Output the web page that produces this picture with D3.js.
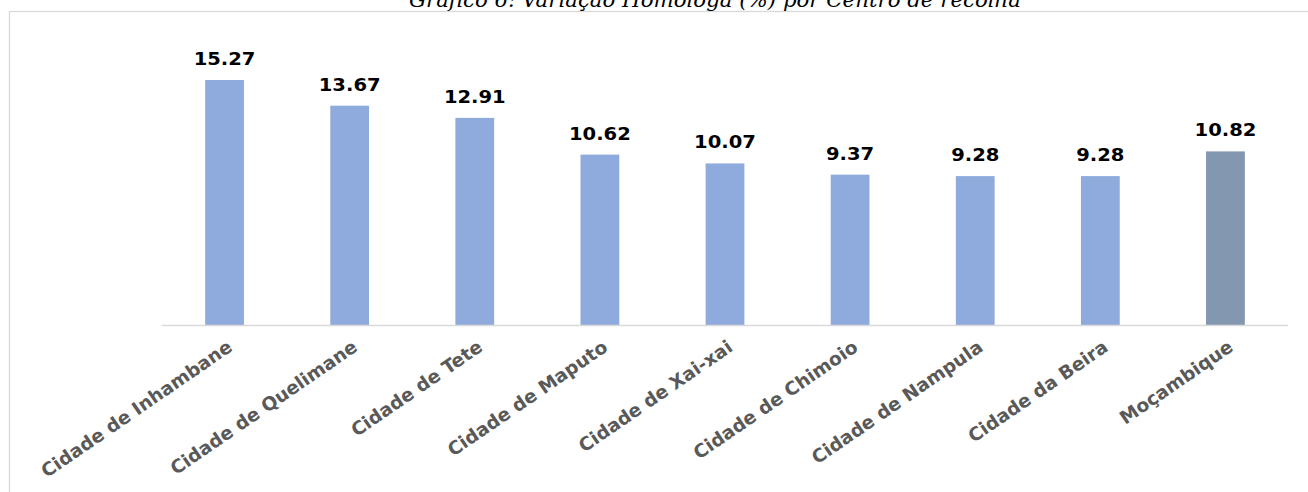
<!DOCTYPE html>
<html><head><meta charset="utf-8">
<script src="https://cdn.jsdelivr.net/npm/d3@7"></script>
<style>body{margin:0;background:#fff;} svg{display:block;}</style>
</head><body>
<svg id="chart" width="1308" height="492"></svg>
<script>
const categories = ["Cidade de Inhambane","Cidade de Quelimane","Cidade de Tete","Cidade de Maputo","Cidade de Xai-xai","Cidade de Chimoio","Cidade de Nampula","Cidade da Beira","Moçambique"];
const values = [15.27, 13.67, 12.91, 10.62, 10.07, 9.37, 9.28, 9.28, 10.82];
const valueLabels = ["15.27","13.67","12.91","10.62","10.07","9.37","9.28","9.28","10.82"];
const title = "Gráfico 6: Variação Homóloga (%) por Centro de recolha";

const svg = d3.select("#chart");
const W = 1308, H = 492;
svg.append("rect").attr("width", W).attr("height", H).attr("fill", "#fff");
// frame
svg.append("rect").attr("x", 9.5).attr("y", 11.5).attr("width", W + 20).attr("height", H + 20)
  .attr("fill", "none").attr("stroke", "#D9D9D9").attr("stroke-width", 1.3);

svg.append("text").attr("x", 715).attr("y", 7).attr("text-anchor", "middle")
  .attr("font-family", "DejaVu Serif").attr("font-style", "italic").attr("font-size", 21.3)
  .attr("fill", "#000").text(title);

const x0 = 162, x1 = 1288, baseY = 325;
const x = d3.scaleBand().domain(categories).range([x0, x1]).paddingInner(0.69).paddingOuter(0.345);
const y = d3.scaleLinear().domain([0, 15.27]).range([baseY, 80]);

svg.selectAll("rect.bar").data(values).join("rect").attr("class", "bar")
  .attr("x", (d, i) => x(categories[i])).attr("width", x.bandwidth())
  .attr("y", d => y(d)).attr("height", d => baseY - y(d))
  .attr("fill", (d, i) => i === categories.length - 1 ? "#8497B0" : "#8FAADC");

svg.append("line").attr("x1", x0).attr("x2", x1).attr("y1", baseY + 0.5).attr("y2", baseY + 0.5)
  .attr("stroke", "#D9D9D9").attr("stroke-width", 1.5);

svg.selectAll("text.val").data(values).join("text").attr("class", "val")
  .attr("text-anchor", "middle").attr("font-family", "DejaVu Sans").attr("font-weight", "bold")
  .attr("font-size", 17).attr("fill", "#000")
  .attr("transform", (d, i) => `translate(${x(categories[i]) + x.bandwidth() / 2},${y(d) - 15}) scale(1.15,1)`)
  .text((d, i) => valueLabels[i]);

const xAxis = d3.axisBottom(x).tickSize(0).tickPadding(0);
const g = svg.append("g").attr("transform", `translate(0,${baseY})`).call(xAxis);
g.select(".domain").remove();
g.selectAll(".tick text")
  .attr("font-family", "DejaVu Sans").attr("font-weight", "bold").attr("font-size", 18.5)
  .attr("fill", "#595959").attr("text-anchor", "end")
  .attr("dy", 0).attr("y", 0)
  .attr("transform", "translate(9,25) rotate(-34.5)");
</script>
</body></html>
